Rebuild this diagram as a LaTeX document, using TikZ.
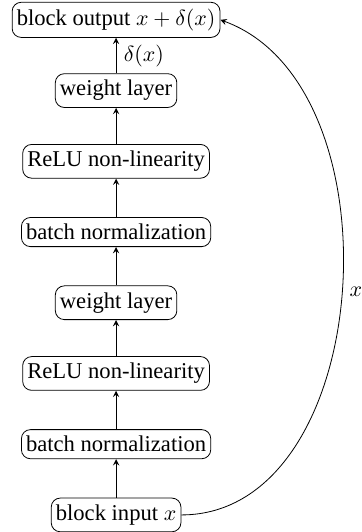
\documentclass[tikz,border=0pt,11pt]{standalone}
\usepackage{fontspec}
\setmainfont{Liberation Serif}
\usetikzlibrary{shapes}

\tikzset{
  layer/.style={draw, rounded corners=4.5pt, inner xsep=2.3pt, inner ysep=3.3pt,
    font=\fontsize{11.3pt}{13pt}\selectfont},
  flow/.style={->, >=stealth}
}

\begin{document}
\begin{tikzpicture}
        \useasboundingbox (0,0) rectangle (6.344,9.349);

        \node [layer] (in) at (2.04,0.30) {block input \(x\)};
        \node [layer] (bn1) at (2.04,1.543) {batch normalization};
        \node [layer] (relu1) at (2.04,2.786) {ReLU non-linearity};
        \node [layer] (w1) at (2.04,4.029) {weight layer};
        \node [layer] (bn2) at (2.04,5.271) {batch normalization};
        \node [layer] (relu2) at (2.04,6.514) {ReLU non-linearity};
        \node [layer] (w2) at (2.04,7.757) {weight layer};
        \node [layer] (out) at (2.04,9.00) {block output \(x+\delta(x)\)};

        \draw [flow] (in) -- (bn1);
        \draw [flow] (bn1) -- (relu1);
        \draw [flow] (relu1) -- (w1);
        \draw [flow] (w1) -- (bn2);
        \draw [flow] (bn2) -- (relu2);
        \draw [flow] (relu2) -- (w2);
        \draw [flow] (w2) -- node[right, font=\fontsize{11.3pt}{13pt}\selectfont]{\(\delta(x)\)} (out);

        % identity shortcut
        \draw [flow] (in.east) to[out=0, in=-20] node[right, font=\fontsize{11.3pt}{13pt}\selectfont]{\(x\)} (out.east);
      \end{tikzpicture}
\end{document}
